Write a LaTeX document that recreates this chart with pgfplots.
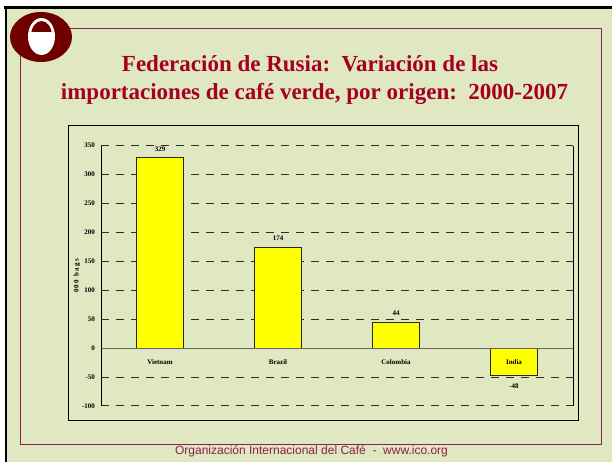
\documentclass[border=0pt]{standalone}
\usepackage{pgfplots}
\pgfplotsset{compat=1.18}
\usepackage{fontspec}
\setmainfont{Liberation Serif}
\newfontfamily\arialfont{Liberation Sans}
\definecolor{bg}{RGB}{223,232,193}
\definecolor{frame}{RGB}{140,30,80}
\definecolor{titlered}{RGB}{165,0,33}
\definecolor{logored}{RGB}{110,0,0}
\definecolor{gridgray}{RGB}{45,45,40}
\definecolor{zerogray}{RGB}{100,100,95}
\definecolor{baryellow}{RGB}{255,255,0}
\begin{document}
\begin{tikzpicture}[x=1pt,y=1pt]
\useasboundingbox (0,0) rectangle (612,462);
\fill[white] (0,0) rectangle (612,462);
\fill[bg] (6,0) rectangle (612,454);
\draw[black,line width=2.5pt] (4,454.5) -- (612,454.5);
\draw[black,line width=2.5pt] (6,0) -- (6,455.5);
\draw[frame,line width=1pt] (20,17) rectangle (601.5,433);
\draw[black,line width=1pt] (68,41) rectangle (578,336);
% logo
\fill[logored] (41,425) ellipse [x radius=31,y radius=25];
\fill[white] (41.5,425.5) ellipse [x radius=13.5,y radius=18.5];
\begin{scope}
\clip (20,430) rectangle (70,450);
\fill[logored] (41.5,426) ellipse [x radius=10.5,y radius=15];
\end{scope}
\fill[white] (30,428.3) rectangle (53,430.3);
% titles
\node[anchor=base,text=titlered,font=\bfseries\fontsize{23}{27}\selectfont] at (310,390) {Federación de Rusia:\ \ Variación de las};
\node[anchor=base,text=titlered,font=\bfseries\fontsize{23}{27}\selectfont] at (314.5,362) {importaciones de café verde, por origen:\ \ 2000-2007};
\node[anchor=base,text=frame,font=\arialfont\fontsize{12}{14}\selectfont] at (311.5,7.5) {Organización Internacional del Café\ \ -\ \ www.ico.org};
\node[rotate=90,font=\bfseries\fontsize{7}{8}\selectfont] at (77,186) {0\,0\,0\ \ b\,a\,g\,s};
\begin{axis}[
  at={(101pt,56pt)}, anchor=south west, scale only axis,
  width=472pt, height=260.3pt,
  xmin=-0.5, xmax=3.5, ymin=-100, ymax=350,
  ytick={-100,-50,...,350}, xtick=\empty,
  axis line style={draw=none},
  clip=false,
  ymajorgrids,
  grid style={gridgray, line width=1pt, dash pattern=on 8pt off 7pt},
  major tick length=0pt,
  /pgf/number format/assume math mode=true,
  yticklabel style={font=\bfseries\fontsize{7}{8}\selectfont, xshift=-2.5pt},
  ybar, bar width=47pt,
]
\addplot[fill=baryellow, draw=black!85, line width=1.1pt] coordinates {(0,329) (1,174) (2,44) (3,-48)};
\draw[zerogray, line width=1.1pt] (axis cs:-0.5,0) -- (axis cs:3.5,0);
\draw[black, line width=1pt] (axis cs:-0.5,-100) -- (axis cs:-0.5,350);
\draw[black, line width=1pt] (axis cs:3.5,-100) -- (axis cs:3.5,350);
\node[font=\bfseries\fontsize{7}{8}\selectfont] at (axis cs:0,344.5) {329};
\node[font=\bfseries\fontsize{7}{8}\selectfont] at (axis cs:1,190) {174};
\node[font=\bfseries\fontsize{7}{8}\selectfont] at (axis cs:2,61) {44};
\node[font=\bfseries\fontsize{7}{8}\selectfont] at (axis cs:3,-66) {-48};
\node[font=\bfseries\fontsize{7}{8}\selectfont] at (axis cs:0,-24) {Vietnam};
\node[font=\bfseries\fontsize{7}{8}\selectfont] at (axis cs:1,-24) {Brazil};
\node[font=\bfseries\fontsize{7}{8}\selectfont] at (axis cs:2,-24) {Colombia};
\node[font=\bfseries\fontsize{7}{8}\selectfont] at (axis cs:3,-24) {India};
\end{axis}
\end{tikzpicture}
\end{document}
